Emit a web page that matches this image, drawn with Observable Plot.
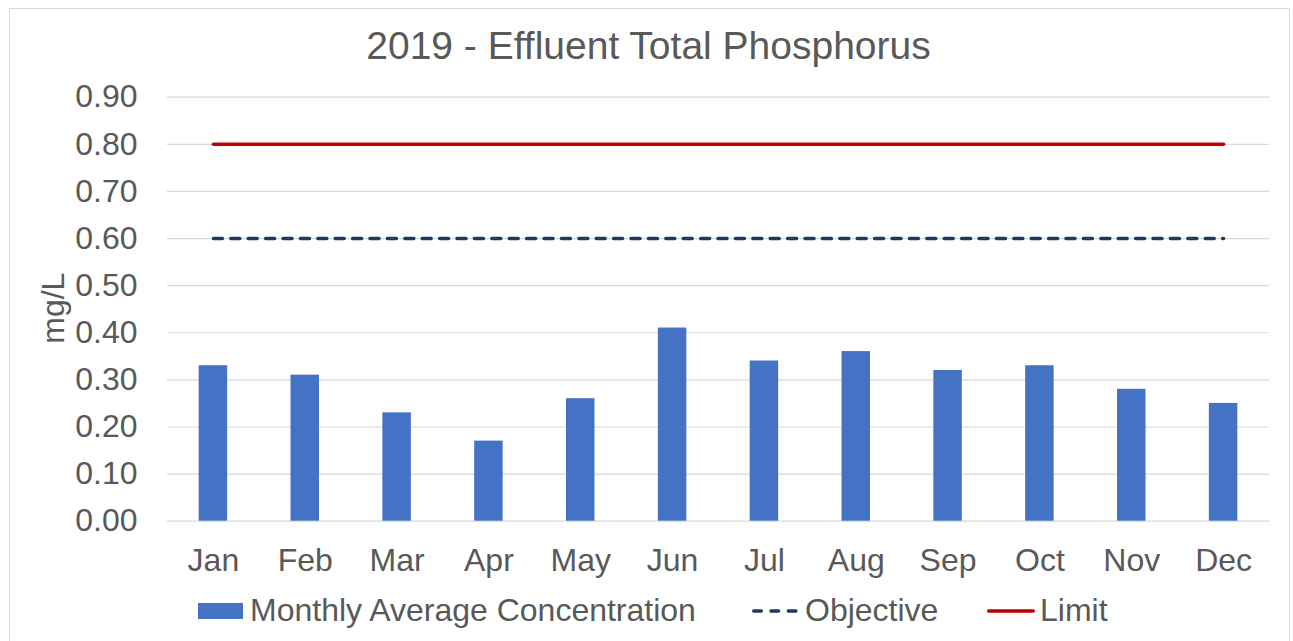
<!DOCTYPE html>
<html>
<head>
<meta charset="utf-8">
<script src="https://cdn.jsdelivr.net/npm/d3@7"></script>
<script src="https://cdn.jsdelivr.net/npm/@observablehq/plot@0.6"></script>
<style>
  html, body { margin: 0; padding: 0; background: #fff; width: 1293px; height: 641px; overflow: hidden; }
  body { font-family: "Liberation Sans", Arial, sans-serif; color: #595959; position: relative; }
  #frame { position: absolute; left: 9px; top: 8px; width: 1281px; height: 700px; box-sizing: border-box; border: 1px solid #d9d9d9; }
  #title { position: absolute; left: 0; width: 1297px; top: 26px; text-align: center; font-size: 39px; line-height: 39px; white-space: nowrap; }
  #chart { position: absolute; left: 0; top: 60px; }
  .leg { position: absolute; top: 594px; font-size: 32px; line-height: 32px; white-space: nowrap; }
  .sw { position: absolute; }
</style>
</head>
<body>
<div id="frame"></div>
<div id="title"></div>
<div id="chart"></div>
<div id="legend"></div>
<script>
// ---- data ----
const title = "2019 - Effluent Total Phosphorus";
const yLabel = "mg/L";
const months = ["Jan","Feb","Mar","Apr","May","Jun","Jul","Aug","Sep","Oct","Nov","Dec"];
const concentration = [0.33, 0.31, 0.23, 0.17, 0.26, 0.41, 0.34, 0.36, 0.32, 0.33, 0.28, 0.25];
const objective = [0.60, 0.60, 0.60, 0.60, 0.60, 0.60, 0.60, 0.60, 0.60, 0.60, 0.60, 0.60];
const limit = [0.80, 0.80, 0.80, 0.80, 0.80, 0.80, 0.80, 0.80, 0.80, 0.80, 0.80, 0.80];
const yTicks = [0.0, 0.1, 0.2, 0.3, 0.4, 0.5, 0.6, 0.7, 0.8, 0.9];
const seriesNames = ["Monthly Average Concentration", "Objective", "Limit"];

const barColor = "#4472C4", objColor = "#203864", limColor = "#C00000";

const rows = months.map((m, i) => ({month: m, conc: concentration[i], obj: objective[i], lim: limit[i]}));

document.getElementById("title").textContent = title;

const plot = Plot.plot({
  width: 1293,
  height: 525,
  marginLeft: 167,
  marginRight: 24,
  marginTop: 36.7,
  marginBottom: 64.3,
  style: {fontFamily: "'Liberation Sans', Arial, sans-serif", fontSize: "32px", color: "#595959", background: "transparent", overflow: "visible"},
  x: {domain: months, paddingInner: 0.69, paddingOuter: 0.345, round: false, label: null},
  y: {domain: [0, 0.9], label: null},
  marks: [
    Plot.ruleY(yTicks, {stroke: "#d9d9d9", strokeWidth: 1.2, strokeOpacity: 1}),
    Plot.barY(rows, {x: "month", y: "conc", fill: barColor}),
    Plot.line(rows, {x: "month", y: "obj", stroke: objColor, strokeWidth: 3.5, strokeDasharray: "9,8.4", strokeLinecap: "round"}),
    Plot.line(rows, {x: "month", y: "lim", stroke: limColor, strokeWidth: 3.5, strokeLinecap: "round"}),
    Plot.axisY({ticks: yTicks, tickSize: 0, tickPadding: 30, tickFormat: d3.format(".2f"), label: null}),
    Plot.axisX({tickSize: 0, tickPadding: 26.6, label: null}),
    Plot.text([yLabel], {frameAnchor: "left", text: d => d, rotate: -90, dx: -114, dy: -1, textAnchor: "middle", fill: "#595959", fontSize: 32})
  ]
});
document.getElementById("chart").appendChild(plot);

// ---- legend ----
const legend = document.getElementById("legend");
const ns = "http://www.w3.org/2000/svg";
function swatch(left, kind, len) {
  const s = document.createElementNS(ns, "svg");
  s.setAttribute("class", "sw");
  s.setAttribute("width", len + 2); s.setAttribute("height", 20);
  s.style.left = left + "px"; s.style.top = "601px";
  if (kind === "bar") {
    const r = document.createElementNS(ns, "rect");
    r.setAttribute("x", 0); r.setAttribute("y", 2); r.setAttribute("width", len); r.setAttribute("height", 16);
    r.setAttribute("fill", barColor); s.appendChild(r);
  } else {
    const l = document.createElementNS(ns, "line");
    l.setAttribute("x1", 1.75); l.setAttribute("x2", len - 1.75); l.setAttribute("y1", 10); l.setAttribute("y2", 10);
    l.setAttribute("stroke", kind === "obj" ? objColor : limColor);
    l.setAttribute("stroke-width", 3.5); l.setAttribute("stroke-linecap", "round");
    if (kind === "obj") l.setAttribute("stroke-dasharray", "7.5,9.8");
    s.appendChild(l);
  }
  legend.appendChild(s);
}
function label(left, text) {
  const d = document.createElement("div");
  d.className = "leg"; d.style.left = left + "px"; d.textContent = text;
  legend.appendChild(d);
}
swatch(197.5, "bar", 45); label(250, seriesNames[0]);
swatch(751.5, "obj", 46); label(805, seriesNames[1]);
swatch(987, "lim", 48); label(1040, seriesNames[2]);
</script>
</body>
</html>
